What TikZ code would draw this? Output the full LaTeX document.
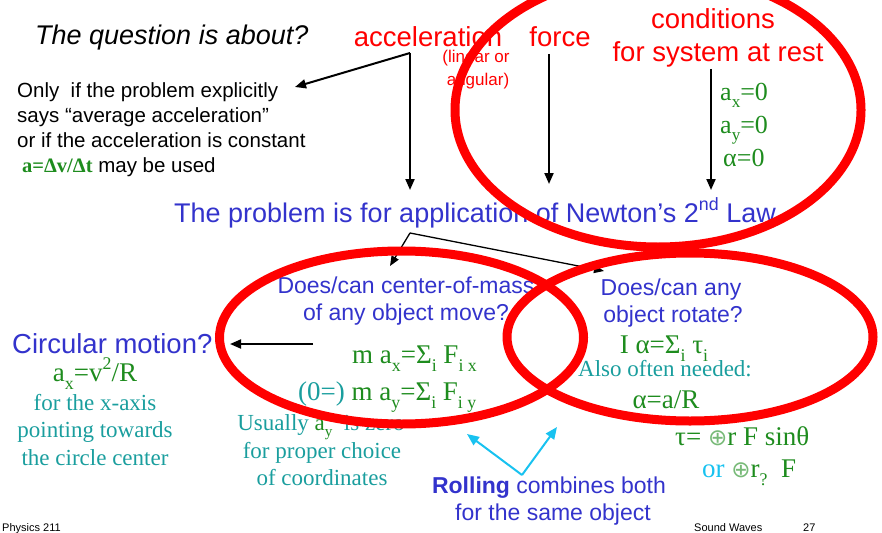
\documentclass[tikz,border=0pt]{standalone}
\usepackage{fontspec}
\setmainfont{Liberation Sans}
\newfontfamily\tms{Liberation Serif}
\newfontfamily\symf{DejaVu Sans}
\usetikzlibrary{arrows.meta}
\definecolor{redc}{HTML}{FF0000}
\definecolor{bluec}{HTML}{3333CC}
\definecolor{greenc}{HTML}{1E8C1E}
\definecolor{tealc}{HTML}{1A9E9E}
\definecolor{cyanc}{HTML}{18C2F0}
\newcommand\fs[1]{\fontsize{#1}{#1}\selectfont}
\newcommand\sbs[1]{\raisebox{-0.3em}{\scalebox{0.66}{#1}}}
\newcommand\sps[1]{\raisebox{0.42em}{\scalebox{0.66}{#1}}}
\newcommand\plusc{{\symf\fs{23}\color{greenc!60}⊕}}
\tikzset{
  lbl/.style={inner sep=0pt, anchor=base west},
  cbl/.style={inner sep=0pt, anchor=base},
  arr/.style={line width=2pt, -{Triangle[length=11pt,width=9pt]}},
  thinarr/.style={line width=1.3pt, -{Triangle[length=10pt,width=8pt]}},
  cyarr/.style={draw=cyanc, line width=2pt, -{Triangle[length=12pt,width=10pt]}},
  ring/.style={draw=redc, line width=9pt},
  hd/.style={cbl, text=redc, font=\fs{27.5}},
  bl/.style={text=bluec},
}
\begin{document}
\begin{tikzpicture}[x=1pt,y=-1pt]
\useasboundingbox (0,0) rectangle (882,532);

% top row
\node[lbl, font=\fs{27}\itshape] (question) at (35,45) {The question is about?};
\node[hd] (accel) at (428,47) {acceleration};
\node[cbl, text=redc, font=\fs{17}] (lin1) at (476,63) {(linear or};
\node[cbl, text=redc, font=\fs{17}] (lin2) at (478,85) {angular)};
\node[hd] (force) at (560,47) {force};
\node[hd] (cond1) at (713,29) {conditions};
\node[hd] (cond2) at (718,62) {for system at rest};
\node[lbl, text=greenc, font=\tms\fs{26}] (ax0) at (720,100) {a\sbs{x}=0};
\node[lbl, text=greenc, font=\tms\fs{26}] (ay0) at (720,133) {a\sbs{y}=0};
\node[lbl, text=greenc, font=\tms\fs{26}] (al0) at (723,166) {α=0};

% "only if" block
\node[lbl, font=\fs{20.5}] (only1) at (17,98) {Only\ \ if the problem explicitly};
\node[lbl, font=\fs{20.5}] (only2) at (17,122) {says “average acceleration”};
\node[lbl, font=\fs{20.5}] (only3) at (17,147) {or if the acceleration is constant};
\node[lbl, font=\fs{20.5}] (only4) at (22,172) {{\tms\bfseries\color{greenc}a=Δv/Δt} may be used};

% arrows from top row
\coordinate (accv) at (410,53);
\coordinate (acctip) at (295,87);
\coordinate (accdown) at (410,190);
\coordinate (forcetop) at (549,54);
\coordinate (forcedown) at (549,184);
\coordinate (condtop) at (711,69);
\coordinate (conddown) at (711,190);
\draw[arr] (accv) -- (acctip);
\draw[arr] (accv) -- (accdown);
\draw[arr] (forcetop) -- (forcedown);
\draw[arr] (condtop) -- (conddown);

% Newton
\node[lbl, bl, font=\fs{27}] (newton) at (174,222) {The problem is for application of Newton’s 2\sps{nd} Law.};
\coordinate (nv) at (410,233);
\coordinate (nleft) at (390,266);
\coordinate (nright) at (604,271);
\draw[thinarr] (nv) -- (nleft);
\draw[thinarr] (nv) -- (nright);

% left ellipse content
\node[cbl, bl, font=\fs{23}] (com1) at (406,293) {Does/can center-of-mass};
\node[cbl, bl, font=\fs{23}] (com2) at (406,320) {of any object move?};
\node[lbl, text=greenc, font=\tms\fs{27}] (fx) at (352,363) {m a\sbs{x}=Σ\sbs{i} F\sbs{i x}};
\node[lbl, text=greenc, font=\tms\fs{27}] (fy) at (298,400) {{\color{tealc}(0=)} m a\sbs{y}=Σ\sbs{i} F\sbs{i y}};

% right ellipse content
\node[cbl, bl, font=\fs{23}] (rot1) at (671,295) {Does/can any};
\node[cbl, bl, font=\fs{23}] (rot2) at (673,322) {object rotate?};
\node[cbl, text=greenc, font=\tms\fs{27}] (ialpha) at (664,353) {I α=Σ\sbs{i} τ\sbs{i}};
\node[cbl, text=tealc, font=\tms\fs{23}] (also) at (665,376) {Also often needed:};
\node[cbl, text=greenc, font=\tms\fs{27}] (alar) at (666,408) {α=a/R};
\node[lbl, text=greenc, font=\tms\fs{27}] (tau) at (675,445) {τ= \plusc r F sinθ};
\node[lbl, text=greenc, font=\tms\fs{27}] (tau2) at (702,477) {{\color{cyanc}or} \plusc r\sbs{?}\ \ F};

% circular motion
\node[lbl, bl, font=\fs{27.5}] (circ) at (12,353) {Circular motion?};
\node[cbl, text=greenc, font=\tms\fs{27}] (axv) at (95,381) {a\sbs{x}=v\sps{2}/R};
\node[cbl, text=tealc, font=\tms\fs{23}] (xax1) at (95,410) {for the x-axis};
\node[cbl, text=tealc, font=\tms\fs{23}] (xax2) at (95,437) {pointing towards};
\node[cbl, text=tealc, font=\tms\fs{23}] (xax3) at (95,465) {the circle center};
\coordinate (cmstart) at (313,344);
\coordinate (cmtip) at (230,344);
\draw[arr] (cmstart) -- (cmtip);

% usually
\node[cbl, text=tealc, font=\tms\fs{23}] (us1) at (321,430) {Usually {\color{greenc}a\sbs{y}}\ \ is zero};
\node[cbl, text=tealc, font=\tms\fs{23}] (us2) at (322,458) {for proper choice};
\node[cbl, text=tealc, font=\tms\fs{23}] (us3) at (322,485) {of coordinates};

% rolling
\node[cbl, bl, font=\fs{23}] (roll1) at (549,493) {\textbf{Rolling} combines both};
\node[cbl, bl, font=\fs{23}] (roll2) at (553,520) {for the same object};
\coordinate (rv) at (522,475);
\coordinate (rleft) at (467,434);
\coordinate (rright) at (557,427);
\draw[cyarr] (rv) -- (rleft);
\draw[cyarr] (rv) -- (rright);

% footer
\node[lbl, font=\fs{11}] (phys) at (2,531.5) {Physics 211};
\node[lbl, font=\fs{11}] (sw) at (694,531.5) {Sound Waves};
\node[lbl, font=\fs{11}] (pg) at (803,531.5) {27};

% red ellipses on top
\draw[ring] (658,110) ellipse [x radius=203, y radius=137];
\draw[ring] (401.5,337.5) ellipse [x radius=182, y radius=86.5];
\draw[ring] (690,337) ellipse [x radius=183, y radius=84];
\end{tikzpicture}
\end{document}
